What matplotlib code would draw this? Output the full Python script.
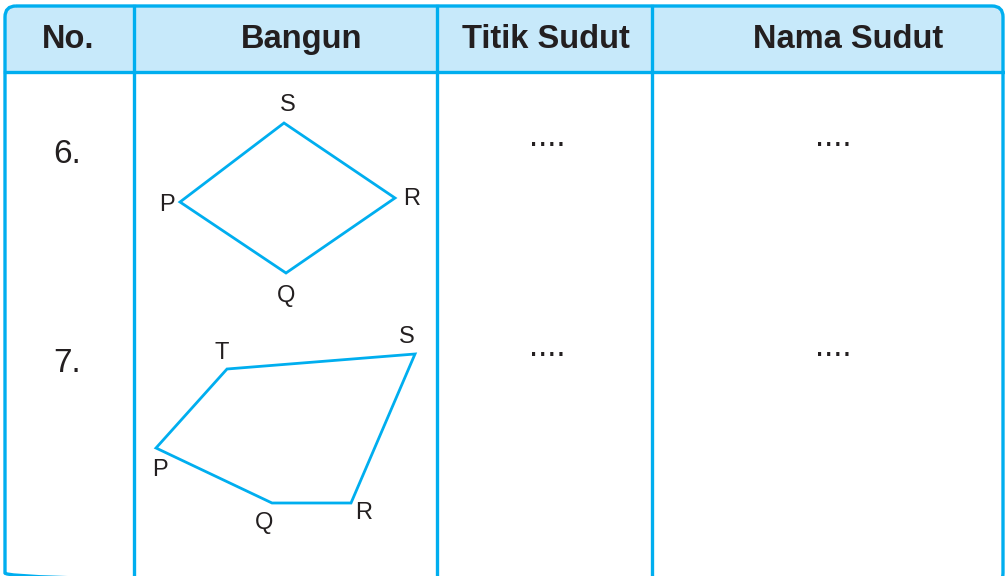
import matplotlib.pyplot as plt
from matplotlib.patches import FancyBboxPatch, Rectangle, Polygon

# table content
headers = ['No.', 'Bangun', 'Titik Sudut', 'Nama Sudut']
header_x = [68, 302, 546, 848]
row_numbers = ['6.', '7.']
row_base = [163, 372]
blank_base = [146, 356]

# shape 6 (diamond) and shape 7 (pentagon), in pixel space
shape6_names = ['P', 'Q', 'R', 'S']
shape6_x = [180, 286, 395, 284]
shape6_y = [202, 273, 198, 123]
shape6_label_x = [167, 286, 412, 288]
shape6_label_y = [205, 296, 199, 105]

shape7_names = ['P', 'Q', 'R', 'S', 'T']
shape7_x = [156, 272, 351, 415, 227]
shape7_y = [448, 503, 503, 354, 369]
shape7_label_x = [160, 264, 364, 407, 222]
shape7_label_y = [470, 523, 513, 337, 353]

col_lines = [134, 437, 652]

blue = '#00AEEF'
head_fill = '#C7E9FA'
ink = '#231F20'
plt.rcParams['font.family'] = ['Liberation Sans', 'DejaVu Sans']

fig = plt.figure(figsize=(10.05, 5.76), dpi=100)
ax = fig.add_axes([0, 0, 1, 1])
ax.set_xlim(0, 1005)
ax.set_ylim(576, 0)
ax.axis('off')

# header band
hdr = FancyBboxPatch((5, 6), 998, 66, boxstyle='round,pad=0,rounding_size=11',
                     facecolor=head_fill, edgecolor='none', zorder=1)
ax.add_patch(hdr)
ax.add_patch(Rectangle((5, 40), 998, 32, facecolor=head_fill, edgecolor='none', zorder=1))

# outer frame (bottom edge runs just past the image)
frame = FancyBboxPatch((5, 6), 998, 578, boxstyle='round,pad=0,rounding_size=11',
                       facecolor='none', edgecolor=blue, linewidth=2.4, zorder=3)
ax.add_patch(frame)

ax.plot([5, 1003], [72, 72], color=blue, lw=2.4, zorder=3)
for x in col_lines:
    ax.plot([x, x], [6, 576], color=blue, lw=2.4, zorder=3)

for h, x in zip(headers, header_x):
    ax.text(x, 48, h, ha='center', va='baseline', fontsize=23.5, fontweight='bold',
            color=ink, zorder=4)

for n, y in zip(row_numbers, row_base):
    ax.text(67, y, n, ha='center', va='baseline', fontsize=24, color=ink)

for y in blank_base:
    ax.text(547, y, '....', ha='center', va='baseline', fontsize=24, color=ink)
    ax.text(833, y, '....', ha='center', va='baseline', fontsize=24, color=ink)

ax.add_patch(Polygon(list(zip(shape6_x, shape6_y)), closed=True, fill=False,
                     edgecolor=blue, lw=2, joinstyle='miter'))
for name, x, y in zip(shape6_names, shape6_label_x, shape6_label_y):
    ax.text(x, y, name, ha='center', va='center', fontsize=17, color=ink)

ax.add_patch(Polygon(list(zip(shape7_x, shape7_y)), closed=True, fill=False,
                     edgecolor=blue, lw=2, joinstyle='miter'))
for name, x, y in zip(shape7_names, shape7_label_x, shape7_label_y):
    ax.text(x, y, name, ha='center', va='center', fontsize=17, color=ink)

fig.savefig('out.png', dpi=100)
